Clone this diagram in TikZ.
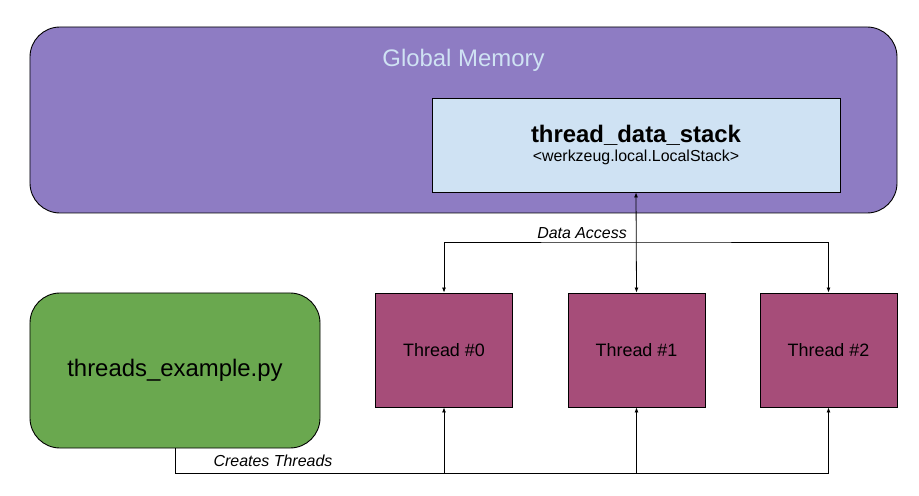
\documentclass[tikz,border=0pt]{standalone}
\usepackage{fontspec}
\setmainfont{Liberation Sans}
\usetikzlibrary{arrows.meta,positioning}
\definecolor{memory}{HTML}{8E7CC3}
\definecolor{stackc}{HTML}{CFE2F3}
\definecolor{threadc}{HTML}{A64D79}
\definecolor{appc}{HTML}{6AA84F}
\tikzstyle{every link} = [draw, line width=0.8pt]
\tikzstyle{link} = [-{Latex[length=5pt,width=4pt]}, every link]
\tikzstyle{box} = [draw, line width=0.9pt, inner sep=0pt]
\tikzstyle{thread} = [box, fill=threadc, minimum width=137bp, minimum height=114bp, font=\fontsize{18}{20}\selectfont]

\begin{document}
\begin{tikzpicture}[x=1bp, y=-1bp]
                    \useasboundingbox (0,0) rectangle (919,496);
                    % global memory
                    \node[box, fill=memory, rounded corners=30bp, minimum width=867bp, minimum height=186bp] (memory) at (463.5,120) {};
                    \node[text=stackc, font=\fontsize{24}{26}\selectfont] (memlabel) at (463.5,60) {Global Memory};
                    \node[box, fill=stackc, minimum width=408bp, minimum height=94bp, align=center] (stack) at (636,145)
                        {{\fontsize{24}{26}\selectfont\bfseries thread\_data\_stack}\\[4bp]
                         {\fontsize{16}{18}\selectfont <werkzeug.local.LocalStack>}};

                    % threads
                    \node[thread] (t0) at (444,350) {Thread \#0};
                    \node[thread] (t1) at (636.5,350) {Thread \#1};
                    \node[thread] (t2) at (828.5,350) {Thread \#2};

                    % script
                    \node[box, fill=appc, rounded corners=30bp, minimum width=290bp, minimum height=155bp, font=\fontsize{24}{26}\selectfont] (app) at (175,370.5) {threads\_example.py};

                    % data access
                    \coordinate (da) at (636,242);
                    \draw[link, {Latex[length=5pt,width=4pt]}-{Latex[length=5pt,width=4pt]}] (stack.south) -- (t1.north);
                    \draw[link, {Latex[length=5pt,width=4pt]}-{Latex[length=5pt,width=4pt]}] (t0.north) |- (da) -| (t2.north);
                    \node[font=\fontsize{16}{18}\selectfont\itshape] (dalabel) at (582,233) {Data Access};

                    % creates threads
                    \coordinate (ct) at (175,473);
                    \draw[link] (app.south) -- (ct) -| (t2.south);
                    \draw[link] (t0.south |- ct) -- (t0.south);
                    \draw[link] (t1.south |- ct) -- (t1.south);
                    \node[font=\fontsize{16}{18}\selectfont\itshape] (ctlabel) at (273,461) {Creates Threads};
                \end{tikzpicture}
\end{document}
